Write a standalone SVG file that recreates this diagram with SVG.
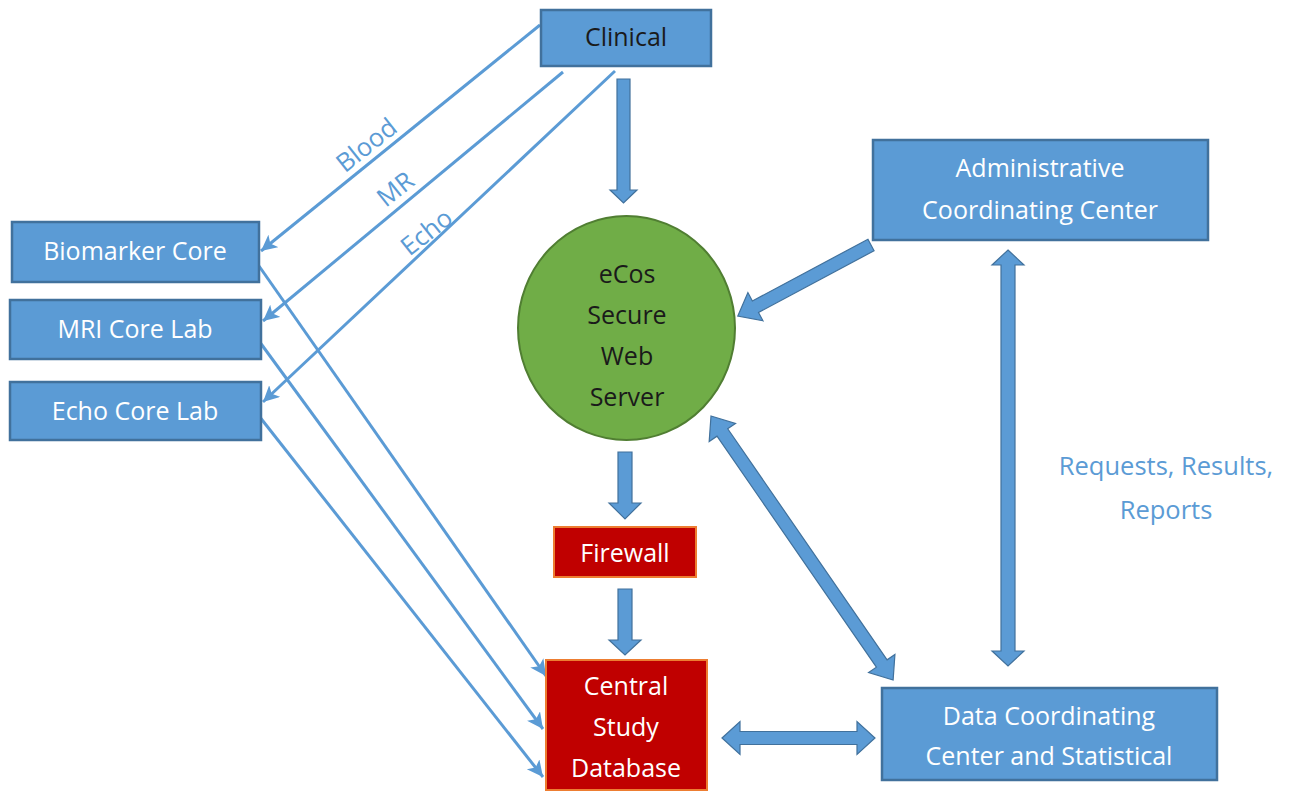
<svg xmlns="http://www.w3.org/2000/svg" width="1295" height="792" viewBox="0 0 1295 792">
<style>
  .box { fill: #5B9BD5; stroke: #41719C; stroke-width: 2.5; }
  .red { fill: #C00000; stroke: #ED7D31; stroke-width: 2; }
  .t { font-family: "Open Sans", Lato, "Liberation Sans", sans-serif; font-size: 25px; text-anchor: middle; }
  .w { fill: #FFFFFF; }
  .k { fill: #1A1A1A; }
  .lbl { font-family: "Open Sans", Lato, "Liberation Sans", sans-serif; font-size: 25.5px; fill: #5B9BD5; text-anchor: middle; }
  .ln { stroke: #5B9BD5; stroke-width: 3; fill: none; marker-end: url(#ah); }
  .blk { fill: #5B9BD5; stroke: #41719C; stroke-width: 1.2; }
</style>
<defs>
  <marker id="ah" markerUnits="userSpaceOnUse" markerWidth="20" markerHeight="20" refX="16" refY="8" orient="auto">
    <path d="M0,0 L16,8 L0,16 L4,8 Z" fill="#5B9BD5"/>
  </marker>
</defs>
<rect width="1295" height="792" fill="#FFFFFF"/>

<g id="connectors">
  <line class="ln" x1="540" y1="25" x2="261" y2="251"/>
  <line class="ln" x1="563" y1="72" x2="263" y2="321"/>
  <line class="ln" x1="615" y1="71" x2="263" y2="402"/>
  <line class="ln" x1="259" y1="266" x2="546" y2="676"/>
  <line class="ln" x1="259" y1="341" x2="543" y2="729"/>
  <line class="ln" x1="259" y1="416" x2="543" y2="777"/>
  <polygon class="blk" points="617,79 630,79 630,190 637,190 623.5,203 610,190 617,190"/>
  <polygon class="blk" points="618,452 632,452 632,503 641,503 625,519 609,503 618,503"/>
  <polygon class="blk" points="618,589 632,589 632,640 641,640 625,655 609,640 618,640"/>
  <polygon class="blk" points="722,738 740,721.5 740,731.5 857,731.5 857,721.5 875,738 857,754.5 857,744.5 740,744.5 740,754.5"/>
  <polygon class="blk" points="1008,250 1024,265 1015,265 1015,651 1024,651 1008,666 992,651 1001,651 1001,265 992,265"/>
  <polygon class="blk" transform="translate(871,245) rotate(151.9)" points="0,-6.5 131,-6.5 131,-16 151,0 131,16 131,6.5 0,6.5"/>
  <polygon class="blk" transform="translate(711,416) rotate(55.4)" points="0,0 20,-16 20,-6.5 300.7,-6.5 300.7,-16 320.7,0 300.7,16 300.7,6.5 20,6.5 20,16"/>
  <text class="lbl" transform="translate(372,152) rotate(-38.5)">Blood</text>
  <text class="lbl" transform="translate(401,196) rotate(-38.5)">MR</text>
  <text class="lbl" transform="translate(432,239) rotate(-38.5)">Echo</text>
  <text class="lbl" x="1166" y="475">Requests, Results,</text>
  <text class="lbl" x="1166" y="519">Reports</text>
</g>

<g id="clinical">
  <rect class="box" x="541" y="10" width="170" height="56"/>
  <text class="t k" x="626" y="46">Clinical</text>
</g>
<g id="biomarker">
  <rect class="box" x="12" y="222" width="247" height="60"/>
  <text class="t w" x="135" y="260">Biomarker Core</text>
</g>
<g id="mri">
  <rect class="box" x="10" y="300" width="251" height="59"/>
  <text class="t w" x="135" y="338">MRI Core Lab</text>
</g>
<g id="echo">
  <rect class="box" x="10" y="382" width="251" height="58"/>
  <text class="t w" x="135" y="420">Echo Core Lab</text>
</g>
<g id="ecos">
  <ellipse cx="626.5" cy="328" rx="108.5" ry="112" fill="#70AD47" stroke="#507E32" stroke-width="2"/>
  <text class="t k" x="627" y="283">eCos</text>
  <text class="t k" x="627" y="324">Secure</text>
  <text class="t k" x="627" y="365">Web</text>
  <text class="t k" x="627" y="406">Server</text>
</g>
<g id="firewall">
  <rect class="red" x="554" y="527" width="142" height="50"/>
  <text class="t w" x="625" y="562">Firewall</text>
</g>
<g id="central-db">
  <rect class="red" x="546" y="660" width="161" height="130"/>
  <text class="t w" x="626" y="695">Central</text>
  <text class="t w" x="626" y="736">Study</text>
  <text class="t w" x="626" y="777">Database</text>
</g>
<g id="admin">
  <rect class="box" x="873" y="140" width="335" height="100"/>
  <text class="t w" x="1040" y="177">Administrative</text>
  <text class="t w" x="1040" y="219">Coordinating Center</text>
</g>
<g id="dcc">
  <rect class="box" x="882" y="688" width="335" height="92"/>
  <text class="t w" x="1049" y="725">Data Coordinating</text>
  <text class="t w" x="1049" y="765">Center and Statistical</text>
</g>
</svg>
